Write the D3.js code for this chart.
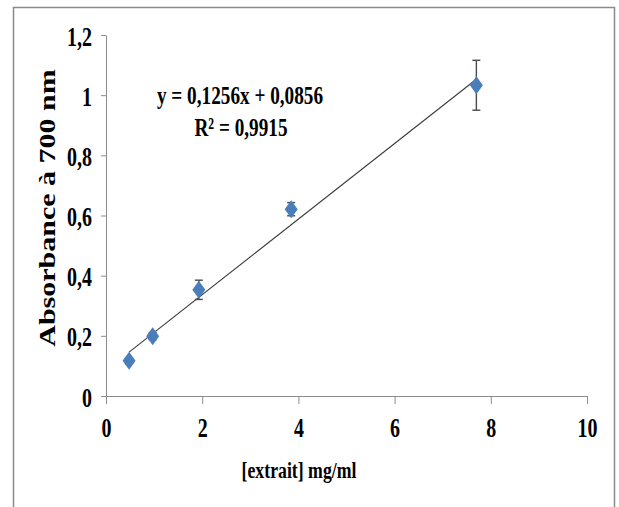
<!DOCTYPE html>
<html>
<head>
<meta charset="utf-8">
<script src="https://cdn.jsdelivr.net/npm/d3@7"></script>
<style>
  html, body { margin: 0; padding: 0; background: #fff; }
  svg text { font-family: "Liberation Serif", "Times New Roman", serif; font-weight: bold; fill: #000; }
</style>
</head>
<body>
<svg id="chart" width="619" height="507"></svg>
<script>
// Extract concentration (mg/ml) and absorbance at 700 nm
const concentrations = [0.48, 0.97, 1.93, 3.85, 7.7];
const absorbances = [0.117, 0.199, 0.353, 0.621, 1.033];
const errors = [0.010, 0.012, 0.032, 0.022, 0.083];

const xTicks = [0, 2, 4, 6, 8, 10];
const yTicks = [0, 0.2, 0.4, 0.6, 0.8, 1, 1.2];

// Linear fit reported on the chart
const slope = 0.1256;
const intercept = 0.0856;
const rSquared = 0.9915;

const xTitle = "[extrait] mg/ml";
const yTitle = "Absorbance à 700 nm";

const svg = d3.select("#chart");
const W = 619, H = 507;
const sx = 0.74; // narrow glyph width

const m = { left: 106, right: 32, top: 35, bottom: 111 };
const x = d3.scaleLinear().domain([0, 10]).range([m.left, W - m.right]);
const y = d3.scaleLinear().domain([0, 1.2]).range([H - m.bottom, m.top]);

const comma = v => String(+v.toFixed(4)).replace(".", ",");

// frame
svg.append("rect")
  .attr("x", 13.5).attr("y", 7.5)
  .attr("width", 601).attr("height", 520)
  .attr("fill", "none").attr("stroke", "#8a8a8a").attr("stroke-width", 1.5);

const axisColor = "#8c8c8c";

// y axis
const gy = svg.append("g")
  .attr("transform", `translate(${x(0)},0)`)
  .call(d3.axisLeft(y).tickValues(yTicks).tickSize(5).tickSizeOuter(0).tickFormat(comma));
gy.select(".domain").attr("stroke", axisColor);
gy.selectAll(".tick line").attr("stroke", axisColor);
gy.selectAll(".tick text")
  .attr("x", null).attr("dy", null)
  .attr("font-size", 27)
  .attr("text-anchor", "end")
  .attr("dominant-baseline", "central")
  .attr("transform", `translate(-14,1) scale(${sx},1)`);

// x axis
const gx = svg.append("g")
  .attr("transform", `translate(0,${y(0)})`)
  .call(d3.axisBottom(x).tickValues(xTicks).tickSize(8).tickSizeOuter(0).tickFormat(comma));
gx.select(".domain").attr("stroke", axisColor);
gx.selectAll(".tick line").attr("stroke", axisColor);
gx.selectAll(".tick text")
  .attr("y", null).attr("dy", null)
  .attr("font-size", 27)
  .attr("text-anchor", "middle")
  .attr("transform", `translate(0,41) scale(${sx},1)`);

// trend line over the measured range
const x0 = d3.min(concentrations), x1 = d3.max(concentrations);
svg.append("line")
  .attr("x1", x(x0)).attr("y1", y(slope * x0 + intercept))
  .attr("x2", x(x1)).attr("y2", y(slope * x1 + intercept))
  .attr("stroke", "#3a3a3a").attr("stroke-width", 1.1);

const pts = concentrations.map((c, i) => ({ c, a: absorbances[i], e: errors[i] }));

// error bars
const eb = svg.append("g").attr("stroke", "#4a4a4a").attr("stroke-width", 1.4);
pts.forEach(p => {
  eb.append("line").attr("x1", x(p.c)).attr("x2", x(p.c))
    .attr("y1", y(p.a - p.e)).attr("y2", y(p.a + p.e));
  [p.a - p.e, p.a + p.e].forEach(v => {
    eb.append("line").attr("x1", x(p.c) - 4).attr("x2", x(p.c) + 4)
      .attr("y1", y(v)).attr("y2", y(v));
  });
});

// diamond markers
svg.append("g").selectAll("path").data(pts).join("path")
  .attr("d", d => {
    const cx = x(d.c), cy = y(d.a), hw = 6.5, hh = 9;
    return `M${cx},${cy - hh}L${cx + hw},${cy}L${cx},${cy + hh}L${cx - hw},${cy}Z`;
  })
  .attr("fill", "#4a7ebb");

// equation and R²
svg.append("text")
  .attr("font-size", 26).attr("text-anchor", "middle")
  .attr("transform", `translate(240,104) scale(${sx},1)`)
  .text(`y = ${comma(slope)}x + ${comma(intercept)}`);
svg.append("text")
  .attr("font-size", 26).attr("text-anchor", "middle")
  .attr("transform", `translate(241,136) scale(${sx},1)`)
  .text(`R² = ${comma(rSquared)}`);

// axis titles
svg.append("text")
  .attr("font-size", 24).attr("text-anchor", "middle")
  .attr("transform", `translate(299,478) scale(${sx},1)`)
  .text(xTitle);
svg.append("text")
  .attr("font-size", 30).attr("text-anchor", "middle")
  .attr("dominant-baseline", "central")
  .attr("transform", `translate(47,208) rotate(-90) scale(1,0.8)`)
  .text(yTitle);
</script>
</body>
</html>
